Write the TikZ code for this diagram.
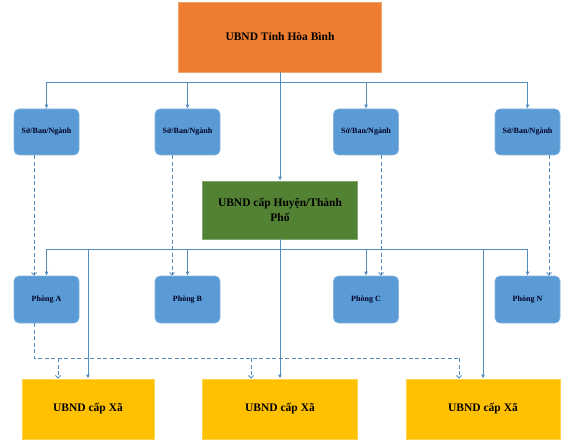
\documentclass[tikz,border=0pt]{standalone}
\usepackage{fontspec}
\setmainfont{Liberation Serif}
\usepackage[dvipsnames]{xcolor}
\definecolor{myorange}{HTML}{ED7D31}
\definecolor{myblue}{HTML}{5B9BD5}
\definecolor{mygreen}{HTML}{548235}
\definecolor{myyellow}{HTML}{FFC000}
\colorlet{myline}{myblue!90!black}
\usepackage{tikz}
\usetikzlibrary{arrows.meta}

\begin{document}
\begin{tikzpicture}[x=1pt, y=-1pt, line width=0.9pt,
		main/.style = {inner sep=0pt, align=center, font=\bfseries\fontsize{11.5}{14.5}\selectfont},
		unit/.style = {main, fill=myblue, draw=myblue!75!white, line width=0.6pt, rounded corners=5pt, minimum width=65, minimum height=47, font=\bfseries\fontsize{8}{10}\selectfont, text=black!85!blue},
		link/.style = {color=myline, -{Latex[length=4pt,width=4pt]}},
		dlink/.style = {color=myline, dash pattern=on 4pt off 2.5pt, -{Straight Barb[length=2.5pt,width=5pt]}}]
		\useasboundingbox (0,0) rectangle (572,446);
		\node[main] (1) at (280,37) [fill=myorange, draw=myorange!70!white, minimum width=203, minimum height=70] {UBND Tỉnh Hòa Bình};
		\node[unit] (2) at (46.5,132) [minimum height=46] {Sở/Ban/Ngành};
		\node[unit] (3) at (187.5,132) [minimum height=46] {Sở/Ban/Ngành};
		\node[unit] (4) at (366,132) [minimum height=46] {Sở/Ban/Ngành};
		\node[unit] (5) at (527.5,132) [minimum height=46] {Sở/Ban/Ngành};
		\node[main] (6) at (280,210) [fill=mygreen, draw=mygreen!70!white, minimum width=155, minimum height=58] {UBND cấp Huyện/Thành\\Phố};
		\node[unit] (7) at (46.5,299.5) {Phòng A};
		\node[unit] (8) at (187.5,299.5) {Phòng B};
		\node[unit] (9) at (366,299.5) {Phòng C};
		\node[unit] (10) at (527.5,299.5) {Phòng N};
		\node[main] (11) at (88,409) [fill=myyellow, draw=myyellow!70!white, minimum width=132, minimum height=60] {UBND cấp Xã};
		\node[main] (12) at (280,409) [fill=myyellow, draw=myyellow!70!white, minimum width=155, minimum height=60] {UBND cấp Xã};
		\node[main] (13) at (483,409) [fill=myyellow, draw=myyellow!70!white, minimum width=154, minimum height=60] {UBND cấp Xã};
		\coordinate (j1) at (280,82);
		\coordinate (j2) at (280,249);
		\coordinate (d1) at (58,358);
		\coordinate (d2) at (251,358);
		\coordinate (d3) at (459,358);
		% tinh -> so, huyen
		\draw[link] (1) -- (6);
		\draw[link] (j1) -| (2);
		\draw[link] (j1) -| (3);
		\draw[link] (j1) -| (4);
		\draw[link] (j1) -| (5);
		% huyen -> phong, xa
		\draw[link] (6) -- (12);
		\draw[link] (j2) -| (7);
		\draw[link] (j2) -| (8);
		\draw[link] (j2) -| (9);
		\draw[link] (j2) -| (10);
		\draw[link] (j2) -| (11);
		\draw[link] (j2) -| (13);
		% so -> phong
		\draw[dlink] ([xshift=-12.5]2.south) -- ([xshift=-12.5]7.north);
		\draw[dlink] ([xshift=-15.5]3.south) -- ([xshift=-15.5]8.north);
		\draw[dlink] ([xshift=15]4.south) -- ([xshift=15]9.north);
		\draw[dlink] ([xshift=21.5]5.south) -- ([xshift=21.5]10.north);
		% phong -> xa
		\draw[dlink, -] ([xshift=-12.5]7.south) |- (d3);
		\draw[dlink] (d1) -- (d1 |- 11.north);
		\draw[dlink] (d2) -- (d2 |- 12.north);
		\draw[dlink] (d3) -- (d3 |- 13.north);
	\end{tikzpicture}
\end{document}
